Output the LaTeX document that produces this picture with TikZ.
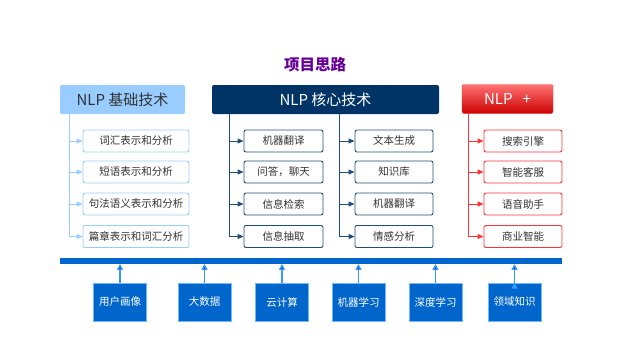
\documentclass[tikz,border=0pt]{standalone}
\usepackage{fontspec}
\newfontfamily\cjk{Noto Sans CJK SC}
\usetikzlibrary{arrows.meta}
\definecolor{titlepurple}{HTML}{660099}
\definecolor{jichu}{HTML}{99CCFF}
\definecolor{hexin}{HTML}{003366}
\definecolor{hexinline}{HTML}{1F4E79}
\definecolor{plusline}{HTML}{FF3333}
\definecolor{base}{HTML}{0066CC}
\definecolor{baseline}{HTML}{3399FF}
\definecolor{txtgray}{HTML}{333333}

\tikzset{
  hdr/.style={rounded corners=2pt, minimum height=29pt, inner sep=0pt, font=\cjk\fontsize{15}{15}\selectfont},
  sub/.style={draw, rounded corners=2pt, fill=white, minimum height=22pt, inner sep=0pt, line width=0.9pt, text=txtgray, font=\cjk\fontsize{10.5}{10.5}\selectfont},
  src/.style={draw=baseline!70!white, fill=base, minimum width=53pt, minimum height=38pt, inner sep=0pt, line width=0.8pt, text=white, font=\cjk\fontsize{10.5}{10.5}\selectfont},
  tip/.style={-{Triangle[length=6pt,width=5pt]}, line width=0.9pt}
}

\begin{document}
\begin{tikzpicture}[x=1pt,y=-1pt]
  \useasboundingbox (0,0) rectangle (640,360);
  \node[font=\cjk\bfseries\fontsize{15.5}{15.5}\selectfont, text=titlepurple] (title) at (315,65) {项目思路};

  % 基础技术
  \node[hdr, fill=jichu, text=txtgray, minimum width=125pt] (a0) at (122.5,99.5) {NLP 基础技术};
  \node[sub, draw=jichu, minimum width=106pt] (a1) at (136,141) {词汇表示和分析};
  \node[sub, draw=jichu, minimum width=106pt] (a2) at (136,172) {短语表示和分析};
  \node[sub, draw=jichu, minimum width=106pt] (a3) at (136,204) {句法语义表示和分析};
  \node[sub, draw=jichu, minimum width=106pt] (a4) at (136,236.5) {篇章表示和词汇分析};
  \coordinate (ax) at (69,114);
  \draw[tip, jichu] (ax) |- (a4.west);
  \draw[tip, jichu] (a1.west -| ax) -- (a1.west);
  \draw[tip, jichu] (a2.west -| ax) -- (a2.west);
  \draw[tip, jichu] (a3.west -| ax) -- (a3.west);

  % 核心技术
  \node[hdr, fill=hexin, text=white, minimum width=227pt] (b0) at (325.5,99.5) {NLP 核心技术};
  \node[sub, draw=hexinline, minimum width=79pt] (b1) at (283.5,141) {机器翻译};
  \node[sub, draw=hexinline, minimum width=79pt] (b2) at (283.5,172) {问答，聊天};
  \node[sub, draw=hexinline, minimum width=79pt] (b3) at (283.5,204) {信息检索};
  \node[sub, draw=hexinline, minimum width=79pt] (b4) at (283.5,236.5) {信息抽取};
  \node[sub, draw=hexinline, minimum width=78pt] (c1) at (394,141) {文本生成};
  \node[sub, draw=hexinline, minimum width=78pt] (c2) at (394,172) {知识库};
  \node[sub, draw=hexinline, minimum width=78pt] (c3) at (394,204) {机器翻译};
  \node[sub, draw=hexinline, minimum width=78pt] (c4) at (394,236.5) {情感分析};
  \coordinate (bx) at (229,114);
  \coordinate (cx) at (339,114);
  \draw[tip, hexinline] (bx) |- (b4.west);
  \draw[tip, hexinline] (b1.west -| bx) -- (b1.west);
  \draw[tip, hexinline] (b2.west -| bx) -- (b2.west);
  \draw[tip, hexinline] (b3.west -| bx) -- (b3.west);
  \draw[tip, hexinline] (cx) |- (c4.west);
  \draw[tip, hexinline] (c1.west -| cx) -- (c1.west);
  \draw[tip, hexinline] (c2.west -| cx) -- (c2.west);
  \draw[tip, hexinline] (c3.west -| cx) -- (c3.west);

  % NLP +
  \node[hdr, top color=red!55!white, bottom color=red!80!black, draw=red!75!white, text=white, minimum width=91pt] (d0) at (507.5,99) {NLP\ \ \ +};
  \node[sub, draw=plusline, minimum width=78pt] (d1) at (523,141) {搜索引擎};
  \node[sub, draw=plusline, minimum width=78pt] (d2) at (523,172) {智能客服};
  \node[sub, draw=plusline, minimum width=78pt] (d3) at (523,204) {语音助手};
  \node[sub, draw=plusline, minimum width=78pt] (d4) at (523,236.5) {商业智能};
  \coordinate (dx) at (468,113.5);
  \draw[tip, plusline] (dx) |- (d4.west);
  \draw[tip, plusline] (d1.west -| dx) -- (d1.west);
  \draw[tip, plusline] (d2.west -| dx) -- (d2.west);
  \draw[tip, plusline] (d3.west -| dx) -- (d3.west);

  % 底层支撑
  \node[fill=base, minimum width=502pt, minimum height=5.5pt, inner sep=0pt] (bar) at (311,261) {};
  \node[src] (u1) at (120,302) {用户画像};
  \node[src] (u2) at (204.5,302) {大数据};
  \node[src] (u3) at (282,302) {云计算};
  \node[src] (u4) at (358.5,302) {机器学习};
  \node[src] (u5) at (435.5,302) {深度学习};
  \node[src] (u6) at (514.5,302) {领域知识};
  \path[-{Triangle[length=6pt,width=6pt]}, draw=baseline, line width=1.4pt]
    (u1.north) edge (u1.north |- bar.south)
    (u2.north) edge (u2.north |- bar.south)
    (u3.north) edge (u3.north |- bar.south)
    (u4.north) edge (u4.north |- bar.south)
    (u5.north) edge (u5.north |- bar.south)
    (u6.north) edge (u6.north |- bar.south);
\end{tikzpicture}
\end{document}
